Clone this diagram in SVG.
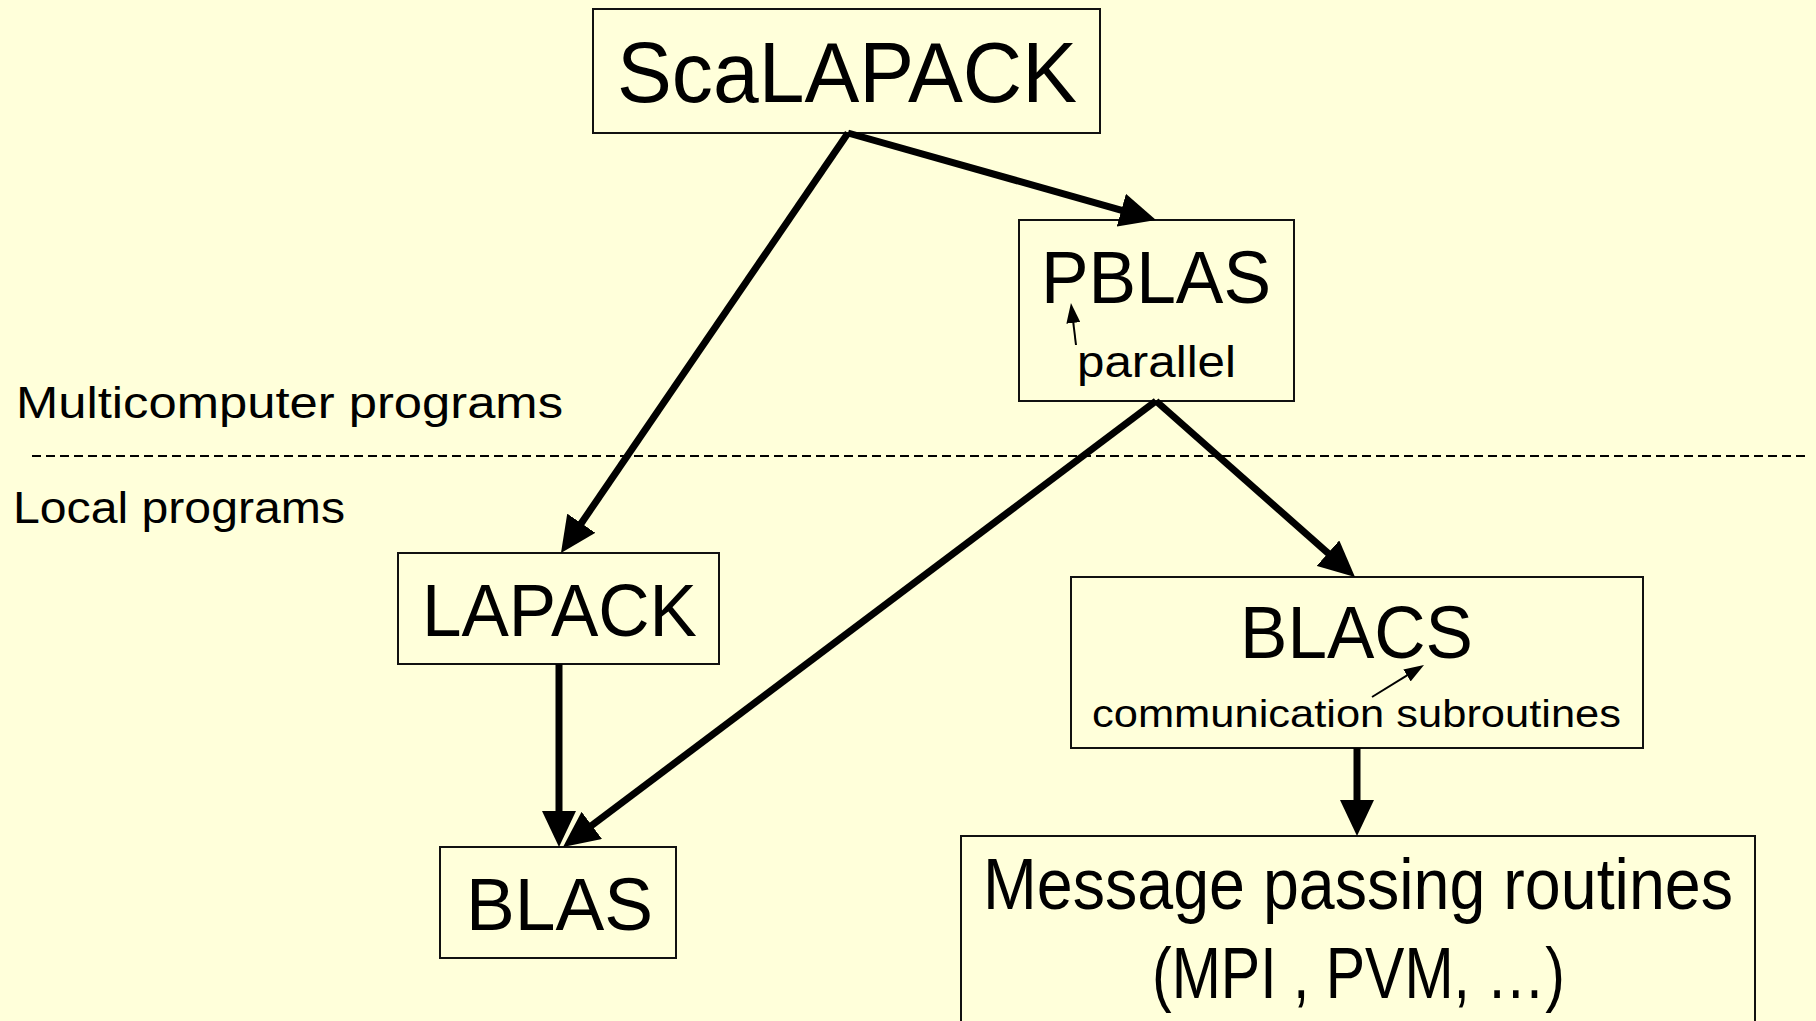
<svg xmlns="http://www.w3.org/2000/svg" width="1816" height="1021" viewBox="0 0 1816 1021">
<style>
.bg{fill:#FFFFDA}
.box{fill:#FFFFDA;stroke:#111;stroke-width:2}
.t{font-family:"Liberation Sans",Arial,sans-serif;fill:#000}
.big{font-size:74px}
.conn{stroke:#000;stroke-width:7;fill:none}
.thin{stroke:#000;stroke-width:2;fill:none}
.dash{stroke:#000;stroke-width:2;stroke-dasharray:9 5;fill:none}
</style>
<defs>
<marker id="head" markerUnits="userSpaceOnUse" markerWidth="36" markerHeight="34" refX="6" refY="17" orient="auto">
<path d="M0,0 L36,17 L0,34 Z" fill="#000"/>
</marker>
<marker id="small" markerUnits="userSpaceOnUse" markerWidth="20" markerHeight="14" refX="2" refY="7" orient="auto">
<path d="M0,0 L20,7 L0,14 Z" fill="#000"/>
</marker>
</defs>
<rect class="bg" x="0" y="0" width="1816" height="1021"/>

<g id="labels">
<text class="t" x="16" y="418" font-size="44" textLength="547" lengthAdjust="spacingAndGlyphs">Multicomputer programs</text>
<line class="dash" x1="32" y1="456" x2="1808" y2="456"/>
<text class="t" x="13" y="523" font-size="44" textLength="332" lengthAdjust="spacingAndGlyphs">Local programs</text>
</g>

<g id="scalapack">
<rect class="box" x="593" y="9" width="507" height="124"/>
<text class="t" x="617" y="102" font-size="86" textLength="460" lengthAdjust="spacingAndGlyphs">ScaLAPACK</text>
</g>

<g id="pblas">
<rect class="box" x="1019" y="220" width="275" height="181"/>
<text class="t big" x="1041" y="303" textLength="230" lengthAdjust="spacingAndGlyphs">PBLAS</text>
<text class="t" x="1077" y="377" font-size="45" textLength="159" lengthAdjust="spacingAndGlyphs">parallel</text>
<line class="thin" x1="1076" y1="345" x2="1073.1" y2="320.9" marker-end="url(#small)"/>
</g>

<g id="lapack">
<rect class="box" x="398" y="553" width="321" height="111"/>
<text class="t big" x="422" y="636" textLength="275" lengthAdjust="spacingAndGlyphs">LAPACK</text>
</g>

<g id="blas">
<rect class="box" x="440" y="847" width="236" height="111"/>
<text class="t big" x="466" y="930" textLength="187" lengthAdjust="spacingAndGlyphs">BLAS</text>
</g>

<g id="blacs">
<rect class="box" x="1071" y="577" width="572" height="171"/>
<text class="t big" x="1240" y="658" textLength="233" lengthAdjust="spacingAndGlyphs">BLACS</text>
<text class="t" x="1092" y="727" font-size="39" textLength="529" lengthAdjust="spacingAndGlyphs">communication subroutines</text>
<line class="thin" x1="1372" y1="697" x2="1408.7" y2="674.4" marker-end="url(#small)"/>
</g>

<g id="message">
<rect class="box" x="961" y="836" width="794" height="200"/>
<text class="t" x="983" y="909" font-size="72" textLength="750" lengthAdjust="spacingAndGlyphs">Message passing routines</text>
<text class="t" x="1152" y="998" font-size="72" textLength="413" lengthAdjust="spacingAndGlyphs">(MPI , PVM, …)</text>
</g>

<g id="connectors">
<line class="conn" x1="848" y1="133" x2="1127.1" y2="211.8" marker-end="url(#head)"/>
<line class="conn" x1="848" y1="133" x2="577.9" y2="528.2" marker-end="url(#head)"/>
<line class="conn" x1="559" y1="664" x2="559" y2="817" marker-end="url(#head)"/>
<line class="conn" x1="1156" y1="401" x2="587" y2="829" marker-end="url(#head)"/>
<line class="conn" x1="1156" y1="401" x2="1332.5" y2="557.1" marker-end="url(#head)"/>
<line class="conn" x1="1357" y1="748" x2="1357" y2="806" marker-end="url(#head)"/>
</g>
</svg>
